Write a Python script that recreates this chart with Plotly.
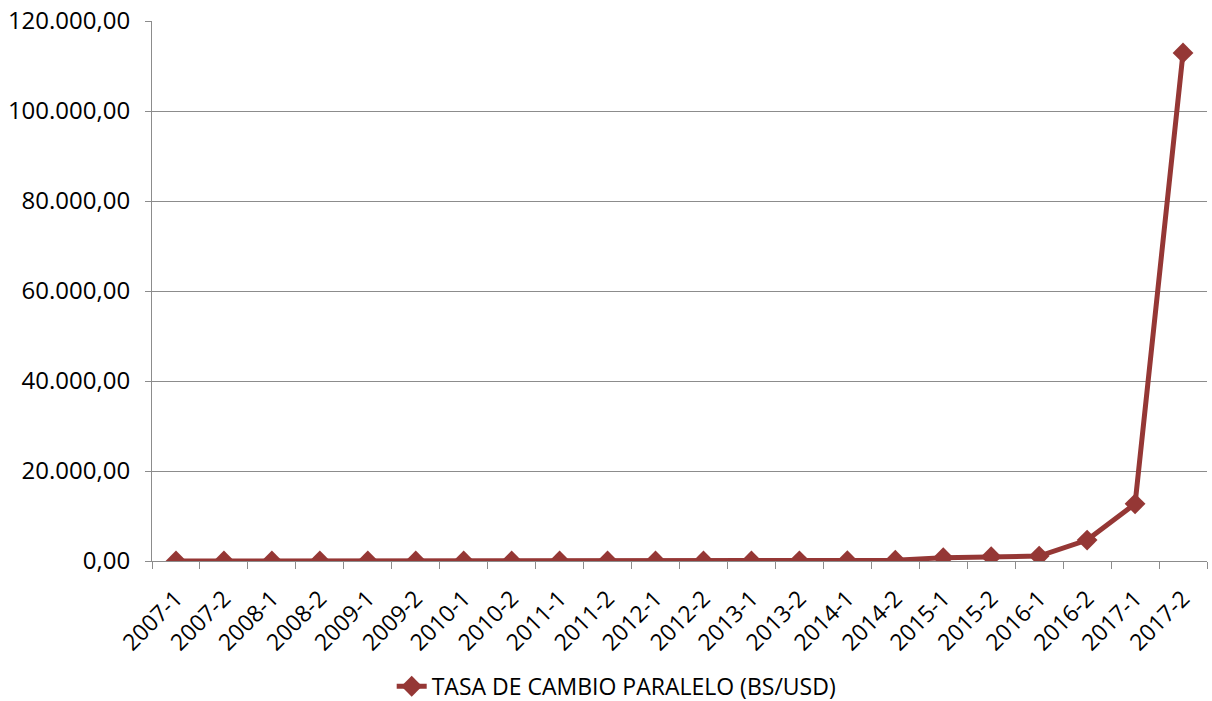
import plotly.graph_objects as go

# Parallel exchange rate by semester (Bs/USD)
periods = [
    "2007-1", "2007-2", "2008-1", "2008-2", "2009-1", "2009-2",
    "2010-1", "2010-2", "2011-1", "2011-2", "2012-1", "2012-2",
    "2013-1", "2013-2", "2014-1", "2014-2", "2015-1", "2015-2",
    "2016-1", "2016-2", "2017-1", "2017-2",
]
tasa_paralelo = [
    4.0, 5.5, 3.5, 5.5, 6.5, 6.0,
    7.0, 8.5, 8.5, 9.0, 9.5, 15.0,
    22.0, 50.0, 70.0, 170.0, 740.0, 960.0,
    1100.0, 4650.0, 12700.0, 112900.0,
]
y_ticks = [0, 20000, 40000, 60000, 80000, 100000, 120000]

LINE_COLOR = "#953735"
GRID = "#8c8c8c"
FONT = "Open Sans"

fig = go.Figure(
    go.Scatter(
        x=periods,
        y=tasa_paralelo,
        mode="lines+markers",
        name="TASA DE CAMBIO PARALELO (BS/USD)",
        line=dict(color=LINE_COLOR, width=5),
        marker=dict(symbol="diamond", size=16, color=LINE_COLOR),
    )
)

fig.update_layout(
    width=1212,
    height=701,
    margin=dict(l=152, r=5, t=21, b=140, autoexpand=False),
    paper_bgcolor="white",
    plot_bgcolor="white",
    separators=",.",
    font=dict(family=FONT, size=24, color="#000000"),
    showlegend=True,
    legend=dict(
        orientation="h",
        x=0.44,
        xanchor="center",
        y=-0.232,
        yanchor="middle",
        font=dict(size=23),
    ),
)

fig.update_xaxes(
    type="category",
    range=[-0.5, len(periods) - 0.5],
    automargin=False,
    tickangle=-45,
    tickson="boundaries",
    ticks="outside",
    ticklen=7,
    tickcolor=GRID,
    ticklabelstandoff=14,
    showline=True,
    linecolor=GRID,
    linewidth=1,
    showgrid=False,
    tickfont=dict(size=23),
)

fig.update_yaxes(
    range=[0, 120000],
    automargin=False,
    tickvals=y_ticks,
    tickformat=",.2f",
    ticks="outside",
    ticklen=6,
    tickcolor=GRID,
    ticklabelstandoff=10,
    showline=True,
    linecolor=GRID,
    linewidth=1,
    showgrid=True,
    gridcolor=GRID,
    gridwidth=1,
    zeroline=False,
    tickfont=dict(size=24),
)

fig.write_html("out.html")
